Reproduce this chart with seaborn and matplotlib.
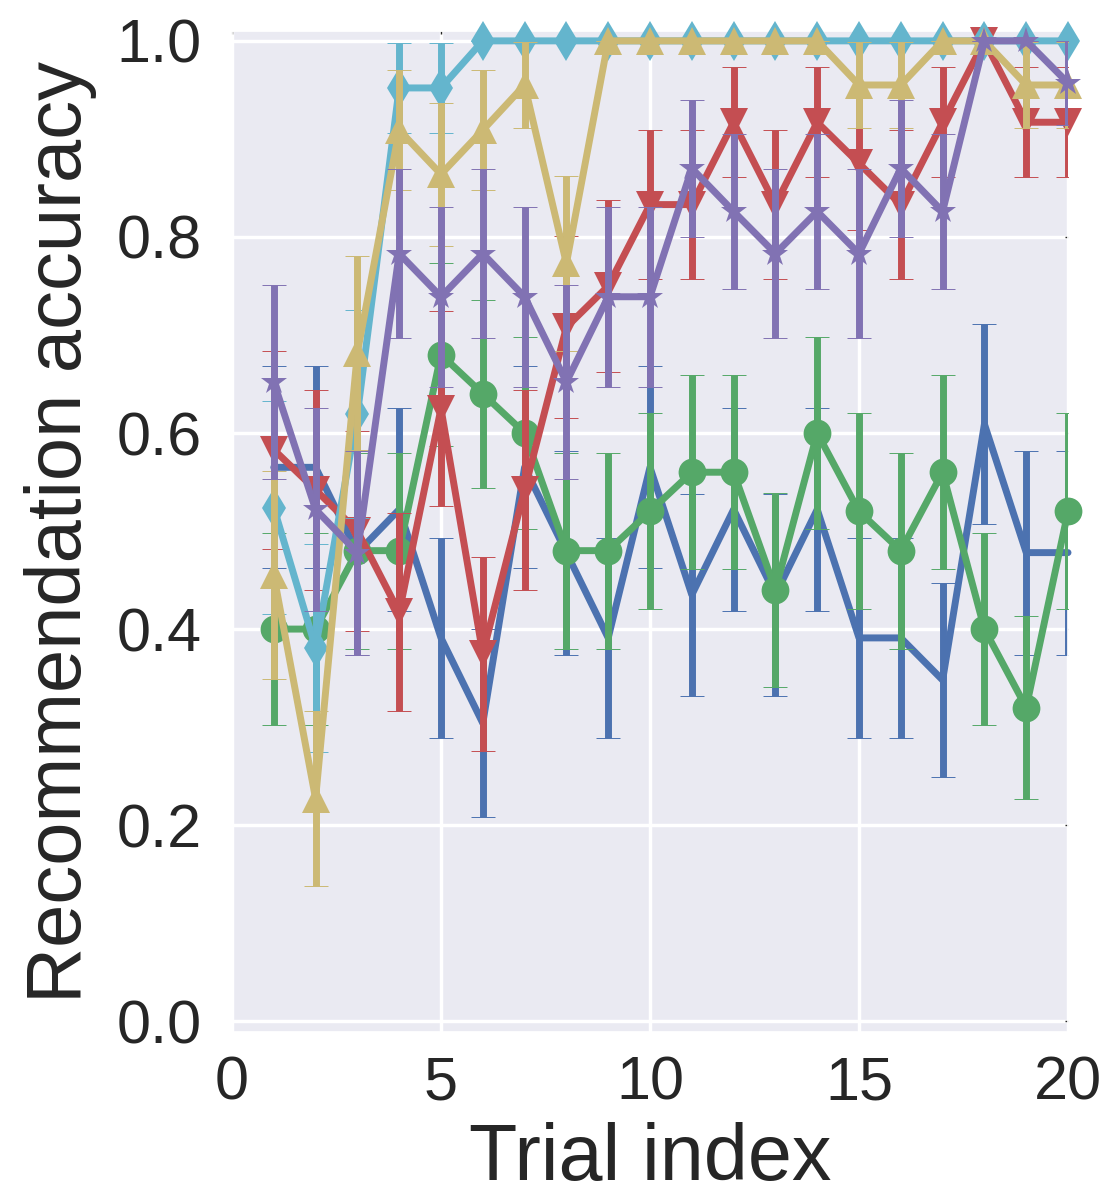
import matplotlib
matplotlib.use("Agg")
import matplotlib.pyplot as plt
import seaborn as sns

trials = list(range(1, 21))

# mean accuracy per trial and its error bar
blue = [0.565, 0.565, 0.478, 0.522, 0.391, 0.304, 0.565, 0.478, 0.391, 0.565,
        0.435, 0.522, 0.435, 0.522, 0.391, 0.391, 0.348, 0.609, 0.478, 0.478]
blue_err = [0.103, 0.103, 0.104, 0.104, 0.102, 0.096, 0.103, 0.104, 0.102, 0.103,
            0.103, 0.104, 0.103, 0.104, 0.102, 0.102, 0.099, 0.102, 0.104, 0.104]

green = [0.40, 0.40, 0.48, 0.48, 0.68, 0.64, 0.60, 0.48, 0.48, 0.52,
         0.56, 0.56, 0.44, 0.60, 0.52, 0.48, 0.56, 0.40, 0.32, 0.52]
green_err = [0.098, 0.098, 0.100, 0.100, 0.093, 0.096, 0.098, 0.100, 0.100, 0.100,
             0.099, 0.099, 0.099, 0.098, 0.100, 0.100, 0.099, 0.098, 0.093, 0.100]

red = [0.583, 0.542, 0.500, 0.417, 0.625, 0.375, 0.542, 0.708, 0.750, 0.833,
       0.833, 0.917, 0.833, 0.917, 0.875, 0.833, 0.917, 1.000, 0.917, 0.917]
red_err = [0.101, 0.102, 0.102, 0.101, 0.099, 0.099, 0.102, 0.093, 0.088, 0.076,
           0.076, 0.056, 0.076, 0.056, 0.068, 0.076, 0.056, 0.000, 0.056, 0.056]

cyan = [0.524, 0.381, 0.619, 0.952, 0.952, 1.0, 1.0, 1.0, 1.0, 1.0,
        1.0, 1.0, 1.0, 1.0, 1.0, 1.0, 1.0, 1.0, 1.0, 1.0]
cyan_err = [0.109, 0.106, 0.106, 0.046, 0.046, 0.0, 0.0, 0.0, 0.0, 0.0,
            0.0, 0.0, 0.0, 0.0, 0.0, 0.0, 0.0, 0.0, 0.0, 0.0]

yellow = [0.455, 0.227, 0.682, 0.909, 0.864, 0.909, 0.955, 0.773, 1.0, 1.0,
          1.0, 1.0, 1.0, 1.0, 0.955, 0.955, 1.0, 1.0, 0.955, 0.955]
yellow_err = [0.106, 0.089, 0.099, 0.061, 0.073, 0.061, 0.044, 0.089, 0.0, 0.0,
              0.0, 0.0, 0.0, 0.0, 0.044, 0.044, 0.0, 0.0, 0.044, 0.044]

purple = [0.652, 0.522, 0.478, 0.783, 0.739, 0.783, 0.739, 0.652, 0.739, 0.739,
          0.870, 0.826, 0.783, 0.826, 0.783, 0.870, 0.826, 1.000, 1.000, 0.957]
purple_err = [0.099, 0.104, 0.104, 0.086, 0.092, 0.086, 0.092, 0.099, 0.092, 0.092,
              0.070, 0.079, 0.086, 0.079, 0.086, 0.070, 0.079, 0.000, 0.000, 0.043]

xticks = [0, 5, 10, 15, 20]
yticks = [0.0, 0.2, 0.4, 0.6, 0.8, 1.0]

sns.set_theme(style="darkgrid")
plt.rcParams['font.family'] = ['Liberation Sans', 'DejaVu Sans']
cb, cg, cr, cp, cy, cc = sns.color_palette("deep6")

series = [
    (blue, blue_err, cb, None),
    (green, green_err, cg, "o"),
    (red, red_err, cr, "v"),
    (cyan, cyan_err, cc, "d"),
    (yellow, yellow_err, cy, "^"),
    (purple, purple_err, cp, "*"),
]

fig, ax = plt.subplots(figsize=(11.18, 11.95), dpi=100)
fig.subplots_adjust(left=0.2075, right=0.9553, bottom=0.1364, top=0.974)

for i, (vals, errs, col, mk) in enumerate(series):
    z = 2 + 2 * i
    ax.errorbar(trials, vals, yerr=errs, fmt="none", ecolor=col, elinewidth=5,
                capsize=8.5, capthick=0.7, zorder=z)
    sns.lineplot(x=trials, y=vals, color=col, marker=mk, markersize=20,
                 markeredgewidth=0, linewidth=5, zorder=z + 1, clip_on=False, ax=ax)

ax.set_xlim(0, 20)
ax.set_ylim(-0.011, 1.01)
ax.set_xticks(xticks)
ax.set_yticks(yticks)
ax.set_yticklabels([f"{t:.1f}" for t in yticks])
ax.grid(linewidth=2.5)
ax.tick_params(direction="in", length=2, width=1, color=".15", top=True, right=True,
               labelsize=44, labelcolor=".15")
ax.tick_params(axis="y", pad=22)
ax.tick_params(axis="x", pad=17)
ax.set_xlabel("Trial index", fontsize=57, color=".15", labelpad=7)
ax.set_ylabel("Recommendation accuracy", fontsize=56, color=".15", labelpad=14)

fig.savefig("out.png", dpi=100)
